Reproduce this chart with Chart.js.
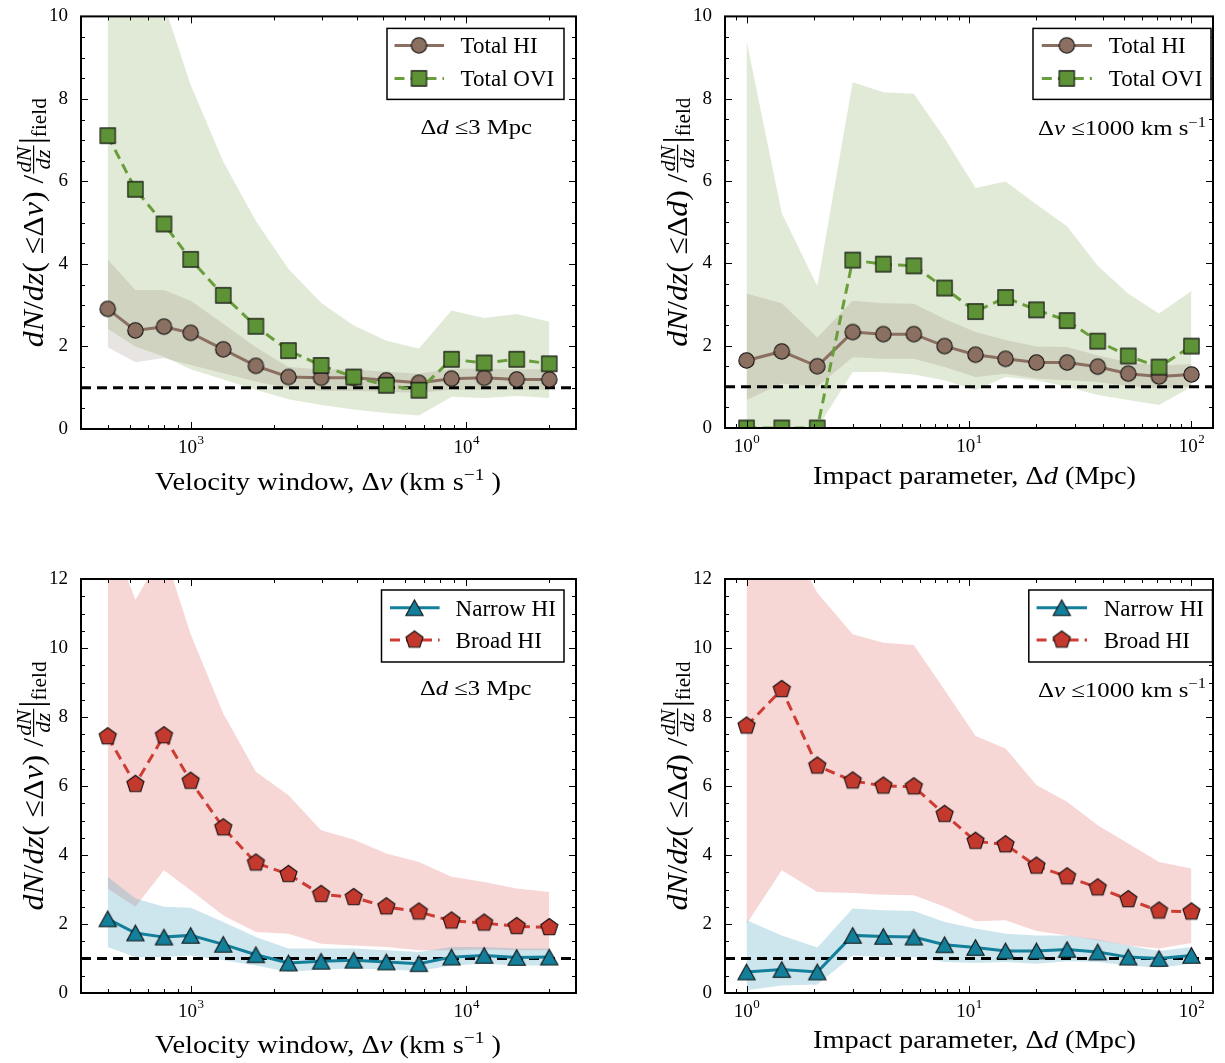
<!DOCTYPE html>
<html>
<head>
<meta charset="utf-8">
<script src="https://cdn.jsdelivr.net/npm/chart.js@4.4.1/dist/chart.umd.min.js"></script>
<style>
  html, body { margin: 0; padding: 0; background: #fff; }
  #wrap { position: relative; width: 1225px; height: 1063px; overflow: hidden; }
  canvas { position: absolute; }
</style>
</head>
<body>
<div id="wrap">
  <canvas id="c1" width="612" height="531" style="left:0;top:0"></canvas>
  <canvas id="c2" width="613" height="531" style="left:612px;top:0"></canvas>
  <canvas id="c3" width="612" height="532" style="left:0;top:531px"></canvas>
  <canvas id="c4" width="613" height="532" style="left:612px;top:531px"></canvas>
</div>
<script>
// bin positions
const velBins = [500, 630, 800, 1000, 1313, 1724, 2264, 2973, 3904, 5126, 6731, 8838, 11605, 15238, 20000];
const impBins = [1, 1.44, 2.08, 3, 4.12, 5.65, 7.77, 10.7, 14.6, 20.1, 27.6, 37.9, 52, 71.5, 100];
const velRange = [400, 25000];
const impRange = [0.8, 125];

// total HI / OVI vs velocity window (d <= 3 Mpc)
const hiVel   = [2.91, 2.39, 2.48, 2.33, 1.93, 1.53, 1.26, 1.24, 1.24, 1.18, 1.12, 1.22, 1.24, 1.20, 1.20];
const hiVelLo = [1.98, 1.62, 1.72, 1.55, 1.35, 1.15, 0.98, 0.93, 0.92, 0.90, 0.88, 0.95, 0.95, 0.95, 0.95];
const hiVelHi = [4.11, 3.37, 3.37, 3.11, 2.55, 1.98, 1.50, 1.44, 1.44, 1.39, 1.34, 1.46, 1.46, 1.45, 1.45];
const oviVel   = [7.11, 5.81, 4.97, 4.11, 3.24, 2.49, 1.90, 1.54, 1.26, 1.06, 0.94, 1.69, 1.60, 1.69, 1.58];
const oviVelLo = [2.43, 2.00, 1.75, 1.45, 1.20, 0.95, 0.72, 0.58, 0.47, 0.39, 0.33, 0.78, 0.75, 0.80, 0.75];
const oviVelHi = [15.0, 12.5, 10.3, 8.34, 6.48, 5.04, 3.88, 3.06, 2.51, 2.14, 1.95, 2.87, 2.69, 2.79, 2.60];

// total HI / OVI vs impact parameter (v <= 1000 km/s)
const hiImp   = [1.64, 1.86, 1.50, 2.33, 2.28, 2.28, 1.99, 1.78, 1.68, 1.59, 1.59, 1.49, 1.32, 1.25, 1.30];
const hiImpLo = [0.68, 1.08, 1.00, 1.72, 1.68, 1.68, 1.48, 1.24, 1.32, 1.20, 1.16, 1.12, 1.02, 0.96, 1.01];
const hiImpHi = [3.27, 3.03, 2.20, 3.09, 3.03, 3.02, 2.65, 2.33, 2.14, 1.98, 1.97, 1.76, 1.60, 1.52, 1.55];
const oviImp   = [0, 0, 0, 4.08, 3.98, 3.94, 3.40, 2.83, 3.17, 2.87, 2.61, 2.11, 1.75, 1.48, 1.99];
const oviImpLo = [0, 0, 0, 1.36, 1.36, 1.30, 1.16, 0.92, 1.24, 1.16, 1.00, 0.80, 0.68, 0.56, 1.00];
const oviImpHi = [9.41, 5.22, 3.45, 8.40, 8.16, 8.12, 7.04, 5.83, 5.99, 5.43, 4.90, 3.94, 3.26, 2.78, 3.33];

// narrow / broad HI vs velocity window
const narVel   = [2.15, 1.74, 1.62, 1.67, 1.41, 1.11, 0.87, 0.92, 0.95, 0.90, 0.85, 1.04, 1.09, 1.03, 1.04];
const narVelLo = [1.33, 1.04, 1.04, 1.09, 0.95, 0.80, 0.61, 0.68, 0.71, 0.68, 0.64, 0.80, 0.85, 0.80, 0.80];
const narVelHi = [3.37, 2.74, 2.50, 2.47, 2.06, 1.62, 1.29, 1.29, 1.29, 1.24, 1.19, 1.33, 1.33, 1.29, 1.29];
const broVel   = [7.43, 6.05, 7.46, 6.14, 4.79, 3.77, 3.44, 2.86, 2.77, 2.50, 2.35, 2.09, 2.03, 1.93, 1.90];
const broVelLo = [3.03, 2.50, 3.56, 2.98, 2.25, 1.77, 1.72, 1.43, 1.38, 1.33, 1.24, 1.24, 1.26, 1.24, 1.24];
const broVelHi = [13.5, 11.4, 12.8, 10.4, 8.10, 6.41, 5.73, 4.72, 4.45, 4.04, 3.80, 3.37, 3.22, 3.03, 2.93];

// narrow / broad HI vs impact parameter
const narImp   = [0.61, 0.68, 0.61, 1.67, 1.64, 1.62, 1.40, 1.32, 1.22, 1.22, 1.26, 1.19, 1.04, 1.00, 1.09];
const narImpLo = [0.08, 0.22, 0.25, 1.09, 1.04, 1.04, 0.90, 0.87, 0.90, 0.85, 0.92, 0.90, 0.80, 0.73, 0.85];
const narImpHi = [2.11, 1.67, 1.32, 2.45, 2.40, 2.38, 2.06, 1.87, 1.72, 1.67, 1.67, 1.55, 1.38, 1.22, 1.33];
const broImp   = [7.74, 8.80, 6.58, 6.15, 6.00, 5.98, 5.18, 4.40, 4.30, 3.68, 3.37, 3.05, 2.71, 2.38, 2.35];
const broImpLo = [2.00, 3.56, 2.93, 2.90, 2.85, 2.83, 2.50, 2.08, 2.11, 1.80, 1.67, 1.53, 1.38, 1.29, 1.45];
const broImpHi = [15.0, 13.5, 11.6, 10.4, 10.15, 10.09, 8.78, 7.45, 7.09, 6.03, 5.54, 4.86, 4.33, 3.80, 3.61];

const fieldLevel = 1;

const SERIF = '"Liberation Serif", "DejaVu Serif", serif';
const col = {
  hi: '#8b6f61', ovi: '#5e9236', oviLine: '#6a9e3c',
  nar: '#137f9b', bro: '#c4392d', broLine: '#cd3d34',
  oviBand: 'rgba(134,172,90,0.25)', hiBand: 'rgba(130,105,95,0.18)',
  narBand: 'rgba(90,170,195,0.30)', broBand: 'rgba(220,100,95,0.26)'
};

function marker(shape, fill) {
  const s = 25, c = document.createElement('canvas');
  c.width = s; c.height = s;
  const g = c.getContext('2d'), m = s / 2;
  g.beginPath();
  if (shape === 'circle') g.arc(m, m, 7.7, 0, 2 * Math.PI);
  else if (shape === 'square') g.rect(m - 7.6, m - 7.6, 15.2, 15.2);
  else if (shape === 'tri') { g.moveTo(m, m - 7.8); g.lineTo(m + 8.6, m + 7.8); g.lineTo(m - 8.6, m + 7.8); g.closePath(); }
  else {
    for (let k = 0; k < 5; k++) {
      const t = -Math.PI / 2 + k * 2 * Math.PI / 5;
      g.lineTo(m + 9 * Math.cos(t), m + 9 * Math.sin(t));
    }
    g.closePath();
  }
  g.fillStyle = fill; g.fill();
  g.lineWidth = 1.1; g.strokeStyle = '#111'; g.stroke();
  return c;
}
const mk = {
  circle: marker('circle', col.hi), square: marker('square', col.ovi),
  tri: marker('tri', col.nar), pent: marker('pent', col.bro)
};

const pts = (xs, ys) => xs.map((x, i) => ({ x: x, y: ys[i] }));

function band(xs, hi, lo, color, order) {
  return [
    { data: pts(xs, hi), borderColor: 'rgba(0,0,0,0)', borderWidth: 1, pointRadius: 0, fill: false, order: order },
    { data: pts(xs, lo), borderColor: 'rgba(0,0,0,0)', borderWidth: 1, pointRadius: 0, fill: '-1', backgroundColor: color, order: order }
  ];
}
function series(xs, ys, color, dash, style, order) {
  return { data: pts(xs, ys), borderColor: color, borderWidth: 3, borderDash: dash, pointStyle: style,
           pointRadius: 9, fill: false, order: order };
}
function hline(range) {
  return { data: [{ x: range[0], y: fieldLevel }, { x: range[1], y: fieldLevel }], borderColor: '#000',
           borderWidth: 3, borderDash: [10, 6], pointRadius: 0, fill: false, order: 10 };
}

// ---------- text helpers ----------
function font(r) { return (r.it ? 'italic ' : '') + r.s + 'px ' + SERIF; }
function runW(ctx, r) {
  if (r.frac) {
    ctx.font = 'italic ' + r.s + 'px ' + SERIF;
    return Math.max(ctx.measureText(r.frac[0]).width, ctx.measureText(r.frac[1]).width) + 4;
  }
  ctx.font = font(r);
  return ctx.measureText(r.t).width;
}
function prep(runs, size) {
  return runs.map(r => Object.assign({ s: r.sup ? Math.round(size * 0.66) : size, dy: r.sup ? -size * 0.42 : 0 }, r));
}
function drawRuns(ctx, runs, x, y, scale) {
  ctx.save();
  ctx.translate(x, y);
  ctx.scale(scale, 1);
  let cx = 0;
  ctx.textBaseline = 'alphabetic';
  ctx.textAlign = 'left';
  ctx.fillStyle = '#000';
  for (const r of runs) {
    const w = runW(ctx, r);
    if (r.frac) {
      ctx.font = 'italic ' + r.s + 'px ' + SERIF;
      ctx.textAlign = 'center';
      ctx.fillText(r.frac[0], cx + w / 2, -12);
      ctx.fillText(r.frac[1], cx + w / 2, 6.5);
      ctx.textAlign = 'left';
      ctx.fillRect(cx + 1, -10, w - 2, 1.2);
    } else {
      ctx.font = font(r);
      ctx.fillText(r.t, cx, r.dy || 0);
    }
    cx += w;
  }
  ctx.restore();
}
function fitRuns(ctx, runs, target) {
  let w = 0;
  for (const r of runs) w += runW(ctx, r);
  return { w: w, scale: target / w };
}

function logTicks(min, max) {
  const out = [];
  for (let e = Math.floor(Math.log10(min)); e <= Math.ceil(Math.log10(max)); e++) {
    for (let k = 1; k < 10; k++) {
      const v = k * Math.pow(10, e);
      if (v >= min * 0.999 && v <= max * 1.001) out.push({ v: v, major: k === 1, e: e });
    }
  }
  return out;
}

const decor = {
  id: 'decor',
  afterDatasetsDraw(chart, args, o) {
    const { ctx, chartArea: a, scales: { x, y } } = chart;
    ctx.save();
    ctx.strokeStyle = '#000';
    ctx.lineWidth = 1;
    const seg = (x0, y0, x1, y1) => { ctx.beginPath(); ctx.moveTo(x0, y0); ctx.lineTo(x1, y1); ctx.stroke(); };
    const xt = logTicks(x.min, x.max);
    for (const t of xt) {
      const px = Math.round(x.getPixelForValue(t.v)) + 0.5, L = t.major ? 7 : 4;
      seg(px, a.bottom, px, a.bottom - L);
      seg(px, a.top, px, a.top + L);
    }
    for (let v = 0; v <= y.max + 1e-9; v += 0.5) {
      const py = Math.round(y.getPixelForValue(v)) + 0.5, L = (v % 2 === 0) ? 7 : 4;
      seg(a.left, py, a.left + L, py);
      seg(a.right, py, a.right - L, py);
    }
    ctx.lineWidth = 2;
    ctx.strokeRect(a.left, a.top, a.right - a.left, a.bottom - a.top);

    // x tick labels (10^n)
    ctx.fillStyle = '#000';
    ctx.textBaseline = 'alphabetic';
    for (const t of xt) {
      if (!t.major) continue;
      const px = x.getPixelForValue(t.v);
      ctx.font = '19px ' + SERIF;
      const w1 = ctx.measureText('10').width;
      ctx.font = '13px ' + SERIF;
      const w2 = ctx.measureText(String(t.e)).width;
      const x0 = px - (w1 + w2) / 2;
      ctx.font = '19px ' + SERIF;
      ctx.textAlign = 'left';
      ctx.fillText('10', x0, a.bottom + 24);
      ctx.font = '13px ' + SERIF;
      ctx.fillText(String(t.e), x0 + w1 + 0.5, a.bottom + 15);
    }
    ctx.restore();
  },
  afterDraw(chart, args, o) {
    const { ctx, chartArea: a } = chart;
    ctx.save();

    // x axis title
    const xr = prep(o.xlabel, 25);
    const fx = fitRuns(ctx, xr, o.xlabelW);
    drawRuns(ctx, xr, a.left + o.xlabelX, a.bottom + o.xlabelY, fx.scale);

    // y axis title, rotated
    const yr = prep(o.ylabel, 30);
    const fy = fitRuns(ctx, yr, 249);
    ctx.save();
    ctx.translate(a.left - 38, (a.top + a.bottom) / 2);
    ctx.rotate(-Math.PI / 2);
    drawRuns(ctx, yr, -124.5, 0, fy.scale);
    ctx.restore();

    // annotation
    const nr = prep(o.note, 21);
    const fn = fitRuns(ctx, nr, o.noteW);
    drawRuns(ctx, nr, a.left + o.noteX, a.top + o.noteY, fn.scale);

    // legend
    const L = o.legend;
    ctx.fillStyle = '#fff';
    ctx.fillRect(a.left + L.box[0], a.top + L.box[1], L.box[2] - L.box[0], L.box[3] - L.box[1]);
    ctx.strokeStyle = '#000';
    ctx.lineWidth = 1.5;
    ctx.strokeRect(a.left + L.box[0], a.top + L.box[1], L.box[2] - L.box[0], L.box[3] - L.box[1]);
    L.items.forEach((it, i) => {
      const ds = chart.data.datasets[it.ds];
      const yy = a.top + L.rows[i];
      ctx.save();
      ctx.strokeStyle = ds.borderColor;
      ctx.lineWidth = 3;
      ctx.setLineDash(ds.borderDash || []);
      ctx.beginPath();
      ctx.moveTo(a.left + L.line[0], yy);
      ctx.lineTo(a.left + L.line[1], yy);
      ctx.stroke();
      ctx.restore();
      const m = ds.pointStyle;
      ctx.drawImage(m, a.left + L.mark - m.width / 2, yy - m.height / 2);
      ctx.fillStyle = '#000';
      ctx.font = '23px ' + SERIF;
      ctx.textAlign = 'left';
      ctx.textBaseline = 'alphabetic';
      ctx.fillText(it.label, a.left + L.text, yy + 8);
    });
    ctx.restore();
  }
};
Chart.register(decor);

const velX = [{ t: 'Velocity window, Δ' }, { t: 'v', it: true }, { t: ' (km s' }, { t: '−1', sup: true }, { t: ' )' }];
const impX = [{ t: 'Impact parameter, Δ' }, { t: 'd', it: true }, { t: ' (Mpc)' }];
function yTitle(sym) {
  return [{ t: 'dN', it: true }, { t: '/' }, { t: 'dz', it: true }, { t: '( ≤Δ' }, { t: sym, it: true }, { t: ') /' },
          { frac: ['dN', 'dz'], s: 21 }, { t: '|', s: 34 }, { t: 'field', s: 20, dy: 3 }];
}
const velNote = [{ t: 'Δ' }, { t: 'd', it: true }, { t: ' ≤3 Mpc' }];
const impNote = [{ t: 'Δ' }, { t: 'v', it: true }, { t: ' ≤1000 km s' }, { t: '−1', sup: true }];

function make(id, cfg) {
  new Chart(document.getElementById(id), {
    type: 'line',
    data: { datasets: cfg.datasets },
    options: {
      responsive: false, animation: false, events: [], devicePixelRatio: 1,
      layout: { padding: cfg.pad },
      plugins: {
        legend: { display: false }, tooltip: { enabled: false },
        decor: cfg.decor
      },
      scales: {
        x: { type: 'logarithmic', min: cfg.range[0], max: cfg.range[1], bounds: 'data', display: false },
        y: {
          type: 'linear', min: 0, max: cfg.ymax,
          afterFit: s => { s.width = cfg.yw; },
          grid: { display: false }, border: { display: false },
          ticks: { stepSize: 2, padding: 5, color: '#000', font: { family: SERIF, size: 19 }, callback: v => String(v) }
        }
      }
    }
  });
}

// panel layouts (relative to chart area)
const legTopVel = { box: [306, 12, 483, 83], rows: [29, 62], line: [313.5, 363], mark: 338, text: 379.6 };
const legTopImp = { box: [308, 12, 486, 83], rows: [29, 62], line: [316.8, 366.9], mark: 341.8, text: 383.8 };
const legBotVel = { box: [300.5, 11, 483, 83], rows: [28.7, 61], line: [309, 358.6], mark: 333.5, text: 374.6 };
const legBotImp = { box: [303.8, 11, 487.5, 83], rows: [28.7, 61], line: [311.6, 362], mark: 336.8, text: 378.7 };

make('c1', {
  range: velRange, ymax: 10, yw: 81, pad: { left: 0, top: 14, right: 36, bottom: 102 },
  datasets: [
    ...band(velBins, oviVelHi, oviVelLo, col.oviBand, 21),
    ...band(velBins, hiVelHi, hiVelLo, col.hiBand, 20),
    hline(velRange),
    series(velBins, hiVel, col.hi, [], mk.circle, 2),
    series(velBins, oviVel, col.oviLine, [10, 6], mk.square, 1)
  ],
  decor: {
    xlabel: velX, xlabelX: 74, xlabelY: 61, xlabelW: 346, ylabel: yTitle('v'),
    note: velNote, noteX: 339.5, noteY: 118, noteW: 111.5,
    legend: Object.assign({ items: [{ ds: 5, label: 'Total HI' }, { ds: 6, label: 'Total OVI' }] }, legTopVel)
  }
});

make('c2', {
  range: impRange, ymax: 10, yw: 113, pad: { left: 0, top: 14, right: 4, bottom: 103 },
  datasets: [
    ...band(impBins, oviImpHi, oviImpLo, col.oviBand, 21),
    ...band(impBins, hiImpHi, hiImpLo, col.hiBand, 20),
    hline(impRange),
    series(impBins, hiImp, col.hi, [], mk.circle, 2),
    series(impBins, oviImp, col.oviLine, [10, 6], mk.square, 1)
  ],
  decor: {
    xlabel: impX, xlabelX: 88, xlabelY: 56, xlabelW: 323, ylabel: yTitle('d'),
    note: impNote, noteX: 313, noteY: 119, noteW: 168,
    legend: Object.assign({ items: [{ ds: 5, label: 'Total HI' }, { ds: 6, label: 'Total OVI' }] }, legTopImp)
  }
});

make('c3', {
  range: velRange, ymax: 12, yw: 81, pad: { left: 0, top: 48, right: 36, bottom: 70 },
  datasets: [
    ...band(velBins, broVelHi, broVelLo, col.broBand, 21),
    ...band(velBins, narVelHi, narVelLo, col.narBand, 20),
    hline(velRange),
    series(velBins, narVel, col.nar, [], mk.tri, 2),
    series(velBins, broVel, col.broLine, [10, 6], mk.pent, 1)
  ],
  decor: {
    xlabel: velX, xlabelX: 74, xlabelY: 60, xlabelW: 346, ylabel: yTitle('v'),
    note: velNote, noteX: 339, noteY: 116, noteW: 111.5,
    legend: Object.assign({ items: [{ ds: 5, label: 'Narrow HI' }, { ds: 6, label: 'Broad HI' }] }, legBotVel)
  }
});

make('c4', {
  range: impRange, ymax: 12, yw: 113, pad: { left: 0, top: 48, right: 4, bottom: 70 },
  datasets: [
    ...band(impBins, broImpHi, broImpLo, col.broBand, 21),
    ...band(impBins, narImpHi, narImpLo, col.narBand, 20),
    hline(impRange),
    series(impBins, narImp, col.nar, [], mk.tri, 2),
    series(impBins, broImp, col.broLine, [10, 6], mk.pent, 1)
  ],
  decor: {
    xlabel: impX, xlabelX: 88, xlabelY: 55, xlabelW: 323, ylabel: yTitle('d'),
    note: impNote, noteX: 313, noteY: 118, noteW: 168,
    legend: Object.assign({ items: [{ ds: 5, label: 'Narrow HI' }, { ds: 6, label: 'Broad HI' }] }, legBotImp)
  }
});
</script>
</body>
</html>
